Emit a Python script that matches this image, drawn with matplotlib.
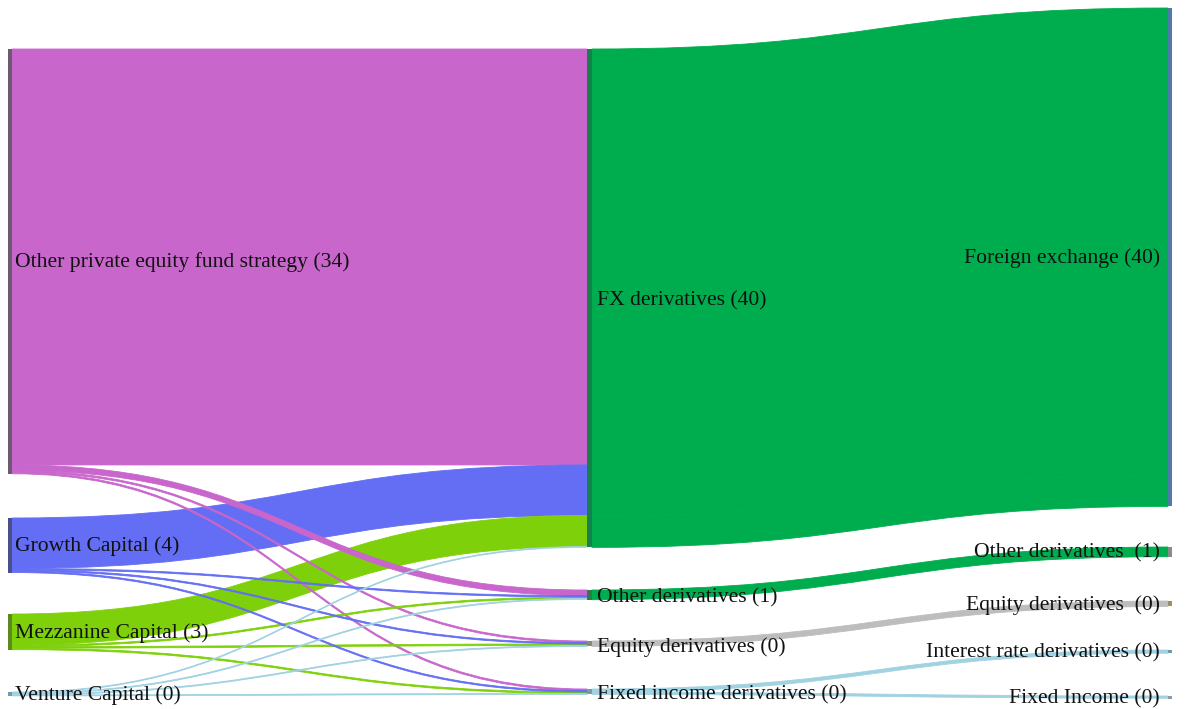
import matplotlib
matplotlib.use("Agg")
import matplotlib.pyplot as plt
from matplotlib.path import Path
from matplotlib.patches import PathPatch, Rectangle

# ---------------- data ----------------
left_nodes = ["Other private equity fund strategy", "Growth Capital", "Mezzanine Capital", "Venture Capital"]
mid_nodes = ["FX derivatives", "Other derivatives", "Equity derivatives", "Fixed income derivatives"]
right_nodes = ["Foreign exchange", "Other derivatives ", "Equity derivatives ", "Interest rate derivatives", "Fixed Income"]

# links from left column to middle column: (source, target, value)
link_src_1 = [0, 0, 0, 0, 1, 1, 1, 1, 2, 2, 2, 2, 3, 3, 3, 3]
link_tgt_1 = [0, 1, 2, 3, 0, 1, 2, 3, 0, 1, 2, 3, 0, 1, 2, 3]
link_val_1 = [33.41, 0.45, 0.13, 0.13, 4.05, 0.11, 0.11, 0.11, 2.50, 0.12, 0.12, 0.12, 0.07, 0.08, 0.08, 0.08]

# links from middle column to right column
link_src_2 = [0, 0, 1, 2, 3, 3]
link_tgt_2 = [0, 0, 1, 2, 3, 4]
link_val_2 = [37.50, 2.53, 0.78, 0.44, 0.26, 0.18]

# ---------------- styles / layout ----------------
left_colors = ["#C966CC", "#636EF5", "#7ED10A", "#A0D2E2"]
left_bar_colors = ["#6E5A70", "#4A4F8A", "#5B8A1E", "#7A9AA8"]
mid_link_colors = ["#00AD4E", "#00AD4E", "#BDBDBD", "#A0D2E2"]
mid_bar_colors = ["#14824A", "#2F7A4A", "#8A8A70", "#7A9AA8"]
right_bar_colors = ["#4F79A8", "#8A8A8A", "#9A9060", "#6A9AB0", "#8A9AA8"]

scale = 12.45  # pixels per unit
col_x = [(8, 12), (587, 592), (1168, 1172)]
left_top = [49, 518, 614, 692]
mid_top = [49, 590, 641, 689]
right_top = [8, 547, 601, 650, 696]

W, H = 1187, 709
fig = plt.figure(figsize=(W / 100, H / 100), dpi=100)
ax = fig.add_axes([0, 0, 1, 1])
ax.set_xlim(0, W)
ax.set_ylim(H, 0)
ax.axis("off")

plt.rcParams["font.family"] = ["Liberation Serif", "DejaVu Serif"]
FS = 15.6
TXT = "#111111"


def totals(n, src, tgt, val, side):
    t = [0.0] * n
    for s, g, v in zip(src, tgt, val):
        t[s if side == "out" else g] += v
    return t


left_tot = totals(len(left_nodes), link_src_1, link_tgt_1, link_val_1, "out")
mid_in = totals(len(mid_nodes), link_src_1, link_tgt_1, link_val_1, "in")
mid_out = totals(len(mid_nodes), link_src_2, link_tgt_2, link_val_2, "out")
mid_tot = [max(a, b) for a, b in zip(mid_in, mid_out)]
right_tot = totals(len(right_nodes), link_src_2, link_tgt_2, link_val_2, "in")


def draw_link(x0, y0, x1, y1, h, color, z):
    xm = (x0 + x1) / 2
    verts = [(x0, y0), (xm, y0), (xm, y1), (x1, y1),
             (x1, y1 + h), (xm, y1 + h), (xm, y0 + h), (x0, y0 + h), (x0, y0)]
    codes = [Path.MOVETO, Path.CURVE4, Path.CURVE4, Path.CURVE4,
             Path.LINETO, Path.CURVE4, Path.CURVE4, Path.CURVE4, Path.CLOSEPOLY]
    ax.add_patch(PathPatch(Path(verts, codes), facecolor=color, edgecolor=color,
                           linewidth=0.6, alpha=1.0, zorder=z))


def draw_stage(src, tgt, val, src_top, tgt_top, xs, xt, colors_by_src):
    out_off = [0.0] * len(src_top)
    in_off = [0.0] * len(tgt_top)
    items = []
    for s, g, v in zip(src, tgt, val):
        h = v * scale
        y0 = src_top[s] + out_off[s]
        y1 = tgt_top[g] + in_off[g]
        out_off[s] += h
        in_off[g] += h
        items.append((h, y0, y1, colors_by_src[s]))
    # larger links below, thin links on top
    for h, y0, y1, c in sorted(items, key=lambda it: -it[0]):
        draw_link(xs, y0, xt, y1, h, c, 2 if h > 20 else 3)


draw_stage(link_src_1, link_tgt_1, link_val_1, left_top, mid_top, col_x[0][1], col_x[1][0], left_colors)
draw_stage(link_src_2, link_tgt_2, link_val_2, mid_top, right_top, col_x[1][1], col_x[2][0], mid_link_colors)


def draw_nodes(tops, tots, xr, colors):
    for t, v, c in zip(tops, tots, colors):
        h = max(v * scale, 3)
        ax.add_patch(Rectangle((xr[0], t), xr[1] - xr[0], h, facecolor=c, edgecolor="none", zorder=4))


draw_nodes(left_top, left_tot, col_x[0], left_bar_colors)
draw_nodes(mid_top, mid_tot, col_x[1], mid_bar_colors)
draw_nodes(right_top, right_tot, col_x[2], right_bar_colors)

for name, t, v in zip(left_nodes, left_top, left_tot):
    ax.text(col_x[0][1] + 3, t + max(v * scale, 3) / 2 + 1, f"{name} ({round(v)})",
            ha="left", va="center", fontsize=FS, color=TXT, zorder=5)
for name, t, v in zip(mid_nodes, mid_top, mid_tot):
    ax.text(col_x[1][1] + 5, t + max(v * scale, 3) / 2 + 3, f"{name} ({round(v)})",
            ha="left", va="center", fontsize=FS, color=TXT, zorder=5)
for name, t, v in zip(right_nodes, right_top, right_tot):
    ax.text(col_x[2][0] - 8, t + max(v * scale, 3) / 2 + 1, f"{name} ({round(v)})",
            ha="right", va="center", fontsize=FS, color=TXT, zorder=5)

fig.savefig("out.png", dpi=100, facecolor="white")
